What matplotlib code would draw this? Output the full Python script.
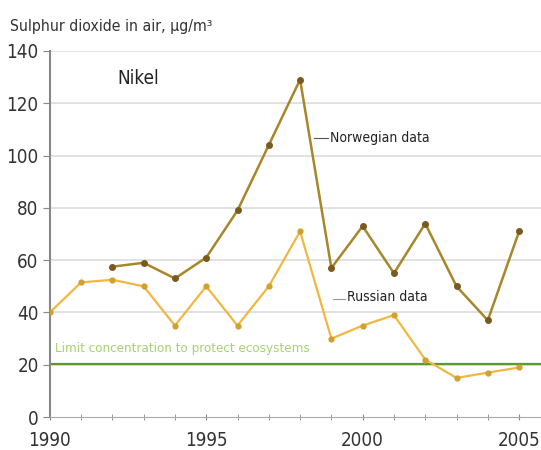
import numpy as np
import matplotlib.pyplot as plt

years_nor = [1992, 1993, 1994, 1995, 1996, 1997, 1998, 1999, 2000, 2001, 2002, 2003, 2004, 2005]
norwegian = [57.5, 59, 53, 61, 79, 104, 129, 57, 73, 55, 74, 50, 37, 71]
years_rus = list(range(1990, 2006))
russian = [40, 51.5, 52.5, 50, 35, 50, 35, 50, 71, 30, 35, 39, 22, 15, 17, 19]
limit = 20.5

plt.rcParams['font.family'] = ['DejaVu Sans']
plt.rcParams['font.stretch'] = 'condensed'

fig = plt.figure(figsize=(5.41, 4.5), dpi=100)
ax = fig.add_axes([0.092, 0.073, 0.908, 0.814])

for y in range(20, 141, 20):
    ax.axhline(y, color='#dcdcdc', lw=1.2, zorder=0)

ax.axhline(limit, color='#5a9a2a', lw=1.6, zorder=1)
ax.text(1990.17, 26.4, 'Limit concentration to protect ecosystems', color='#a8d070',
        fontsize=9.6, va='center', ha='left')

ax.plot(years_rus, russian, color='#f0b840', lw=1.6, marker='o', ms=3.5,
        mfc='#d0a030', mec='#d0a030', zorder=3)
ax.plot(years_nor, norwegian, color='#a8862a', lw=1.8, marker='o', ms=4,
        mfc='#7a5a20', mec='#7a5a20', zorder=4)

ax.plot([1998.45, 1998.9], [106.7, 106.7], color='#555555', lw=0.8)
ax.text(1998.95, 106.7, 'Norwegian data', fontsize=10, va='center', ha='left', color='#222222')
ax.plot([1999.05, 1999.45], [45, 45], color='#8899bb', lw=0.8)
ax.text(1999.5, 46, 'Russian data', fontsize=10, va='center', ha='left', color='#222222')

ax.text(1992.17, 129.5, 'Nikel', fontsize=13.5, va='center', ha='left', color='#222222')

fig.text(0.018, 0.942, 'Sulphur dioxide in air, µg/m³', fontsize=11.3, color='#333333',
         ha='left', va='center')

ax.set_xlim(1990, 2005.7)
ax.set_ylim(0, 140)
ax.set_yticks(range(0, 141, 20))
ax.set_xticks([1990, 1995, 2000, 2005])
ax.set_xticks(range(1990, 2006), minor=True)
ax.tick_params(axis='both', labelsize=13.5, colors='#333333')
ax.tick_params(axis='y', length=5, color='#888888', pad=3)
ax.tick_params(axis='x', which='both', length=4, color='#888888', direction='inout', pad=8)
for s in ['top', 'right']:
    ax.spines[s].set_visible(False)
ax.spines['left'].set_color('#888888')
ax.spines['bottom'].set_color('#aaaaaa')
ax.spines['left'].set_linewidth(1.5)

fig.savefig('out.png', dpi=100)
